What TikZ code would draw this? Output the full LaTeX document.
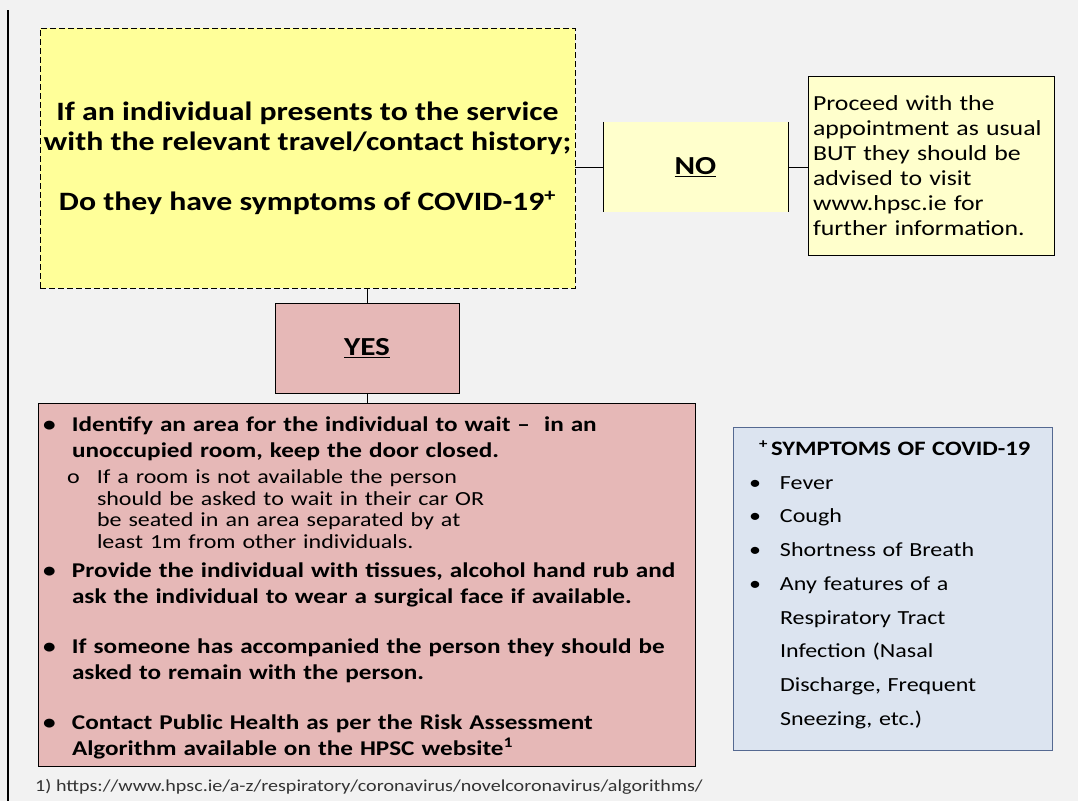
\documentclass[tikz,border=0pt]{standalone}
\usepackage{fontspec}
\setmainfont{Carlito}[FakeStretch=1.2]
\usetikzlibrary{positioning}

\definecolor{pagegray}{RGB}{242,242,242}
\definecolor{qyellow}{RGB}{255,255,153}
\definecolor{paleyellow}{RGB}{255,255,204}
\definecolor{rosepink}{RGB}{230,184,183}
\definecolor{paleblue}{RGB}{220,228,240}
\definecolor{slateblue}{RGB}{85,105,145}

\newcommand{\pbul}[1]{\par\hangindent=29pt\hangafter=1\noindent\makebox[29pt][l]{\textbullet}#1}
\newcommand{\psub}[1]{\par\hangindent=54pt\hangafter=1\noindent\hspace*{24pt}\makebox[30pt][l]{o}#1}
\newcommand{\sbul}[1]{\par\noindent\hspace*{3pt}\makebox[31pt][l]{\textbullet}#1}
\newcommand{\tightlines}{\lineskiplimit=-10pt\relax}

\begin{document}
\begin{tikzpicture}[x=1pt, y=-1pt, every node/.style={inner sep=0pt}]
  \useasboundingbox (0,0) rectangle (1078,801);
  \fill[pagegray] (0,0) rectangle (1078,801);
  \draw[line width=1.2pt] (8,10) -- (8,801);

  % question and the two answers
  \node[draw, dash pattern=on 6pt off 3pt, fill=qyellow, minimum width=535pt, minimum height=260pt,
    align=center, font=\fontsize{26.5}{30}\selectfont\bfseries\tightlines] (question) at (307.5,158)
    {If an individual presents to the service\\with the relevant travel/contact history;\\[30pt]Do they have symptoms of COVID-19\textsuperscript{+}};

  \node[fill=paleyellow, minimum width=185pt, minimum height=90pt,
    font=\fontsize{26}{30}\selectfont\bfseries] (no) at (695.5,167) {\underline{NO}};
  \draw (no.north west) -- (no.south west);
  \draw (no.north east) -- (no.south east);

  \node[draw, fill=paleyellow, minimum width=246pt, minimum height=179pt, text width=236pt,
    align=left, font=\fontsize{21.5}{25}\selectfont\tightlines] (proceed) at (931,165.5)
    {Proceed with the\\appointment as usual\\BUT they should be\\advised to visit\\www.hpsc.ie for\\further information.};

  \node[draw, fill=rosepink, minimum width=184pt, minimum height=90pt,
    font=\fontsize{26}{30}\selectfont\bfseries] (yes) at (367,348) {\underline{YES}};

  \draw (question.east |- no.west) -- (no.west);
  \draw (no.east) -- (no.east -| proceed.west);
  \draw (yes.north |- question.south) -- (yes.north);

  % what to do
  \node[draw, fill=rosepink, minimum width=657pt, minimum height=363pt, text width=647pt,
    align=left, font=\fontsize{21}{26}\selectfont\bfseries\tightlines] (actions) at (366.5,584.5) {%
    \pbul{Identify an area for the individual to wait --\ \ in an\newline unoccupied room, keep the door closed.}\par
    \vspace{5pt}
    {\mdseries\fontsize{20}{21.5}\selectfont
    \psub{If a room is not available the person\newline should be asked to wait in their car OR\newline be seated in an area separated by at\newline least 1m from other individuals.}\par}
    \vspace{3pt}
    \pbul{Provide the individual with tissues, alcohol hand rub and\newline ask the individual to wear a surgical face if available.}\par
    \vspace{24pt}
    \pbul{If someone has accompanied the person they should be\newline asked to remain with the person.}\par
    \vspace{24pt}
    \pbul{Contact Public Health as per the Risk Assessment\newline Algorithm available on the HPSC website\textsuperscript{1}\rule[-9pt]{0pt}{1pt}}\par};
  \draw (yes.south) -- (yes.south |- actions.north);

  % symptoms
  \node[draw=slateblue, fill=paleblue, minimum width=319pt, minimum height=323pt, text width=293pt,
    align=left, font=\fontsize{20}{33.7}\selectfont] (symptoms) at (892.5,588.5) {%
    \vspace*{-5pt}
    \par\noindent\hspace*{13pt}\smash{\textsuperscript{\bfseries+}}\,{\fontsize{20.5}{24}\selectfont\bfseries SYMPTOMS OF COVID-19}
    \sbul{Fever}
    \sbul{Cough}
    \sbul{Shortness of Breath}
    \sbul{Any features of a}
    \par\noindent\hspace*{34pt}Respiratory Tract
    \par\noindent\hspace*{34pt}Infection (Nasal
    \par\noindent\hspace*{34pt}Discharge, Frequent
    \par\noindent\hspace*{34pt}Sneezing, etc.)\rule[-25pt]{0pt}{1pt}\par};

  \node[anchor=west, text=black!80, font=\fontsize{16.75}{18}\selectfont] (footnote) at (35,787)
    {1) https://www.hpsc.ie/a-z/respiratory/coronavirus/novelcoronavirus/algorithms/};
\end{tikzpicture}
\end{document}
